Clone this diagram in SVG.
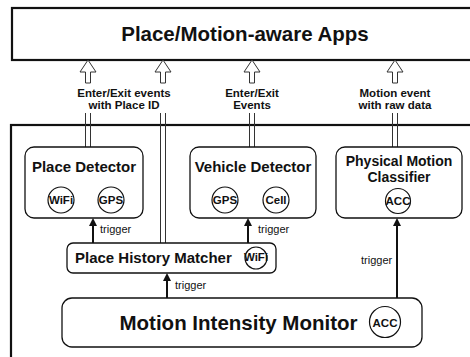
<svg xmlns="http://www.w3.org/2000/svg" width="470" height="357" viewBox="0 0 470 357">
  <defs>
    <style>
      .frame { fill: #fff; stroke: #111; stroke-width: 2.2; }
      .node { fill: #fff; stroke: #111; stroke-width: 1.3; }
      .chip { fill: #fff; stroke: #111; stroke-width: 1.2; }
      .shaft { stroke: #333; stroke-width: 1; fill: none; }
      .head { fill: #fff; stroke: #333; stroke-width: 1; stroke-linejoin: miter; }
      .trig { stroke: #111; stroke-width: 2; fill: none; marker-end: url(#solid); }
      .title { font-family: "Liberation Sans", Arial, sans-serif; font-weight: bold; fill: #111; text-anchor: middle; }
      .lbl { font-family: "Liberation Sans", Arial, sans-serif; font-weight: bold; font-size: 11.5px; fill: #111; text-anchor: middle; }
      .tr { font-family: "Liberation Sans", Arial, sans-serif; font-size: 11px; fill: #111; }
      .sens { font-family: "Liberation Sans", Arial, sans-serif; font-weight: bold; font-size: 11.5px; fill: #111; text-anchor: middle; }
    </style>
    <marker id="solid" markerWidth="8" markerHeight="8" refX="4" refY="4" orient="auto" markerUnits="userSpaceOnUse">
      <path d="M0,0 L8,4 L0,8 z" fill="#111"/>
    </marker>
  </defs>

  <rect width="470" height="357" fill="#fff"/>

  <!-- application layer -->
  <g id="apps">
    <rect class="frame" x="12" y="8" width="470" height="52"/>
    <text class="title" x="245" y="41" font-size="20.5">Place/Motion-aware Apps</text>
  </g>

  <!-- system frame -->
  <g id="system">
    <rect class="frame" x="11" y="125" width="470" height="250"/>
  </g>

  <!-- connectors -->
  <g id="connectors">
    <!-- hollow up arrows to the apps -->
    <polygon class="head" points="85.5,83 85.5,72 80,72 88,60 96,72 90.5,72 90.5,83"/>
    <path class="shaft" d="M85.5,113 V147 M90.5,113 V147"/>
    <polygon class="head" points="160.5,83 160.5,72 155,72 163,60 171,72 165.5,72 165.5,83"/>
    <path class="shaft" d="M160.5,113 V243 M165.5,113 V243"/>
    <polygon class="head" points="249.5,83 249.5,72 244,72 252,60 260,72 254.5,72 254.5,83"/>
    <path class="shaft" d="M249.5,113 V147 M254.5,113 V147"/>
    <polygon class="head" points="392.5,83 392.5,72 387,72 395,60 403,72 397.5,72 397.5,83"/>
    <path class="shaft" d="M392.5,113 V147 M397.5,113 V147"/>

    <!-- trigger arrows -->
    <line class="trig" x1="93" y1="243" x2="93" y2="222"/>
    <line class="trig" x1="248" y1="243" x2="248" y2="222"/>
    <line class="trig" x1="167" y1="298" x2="167" y2="277"/>
    <line class="trig" x1="397" y1="298" x2="397" y2="222"/>

    <text class="lbl" x="124" y="97">Enter/Exit events</text>
    <text class="lbl" x="124" y="109">with Place ID</text>
    <text class="lbl" x="252" y="97">Enter/Exit</text>
    <text class="lbl" x="252" y="109">Events</text>
    <text class="lbl" x="395" y="97">Motion event</text>
    <text class="lbl" x="395" y="109">with raw data</text>

    <text class="tr" x="100" y="233">trigger</text>
    <text class="tr" x="258" y="233">trigger</text>
    <text class="tr" x="175" y="289">trigger</text>
    <text class="tr" x="361" y="264">trigger</text>
  </g>

  <g id="place-detector">
    <rect class="node" x="25" y="147" width="118" height="71" rx="9"/>
    <text class="title" x="84" y="172" font-size="15">Place Detector</text>
    <circle class="chip" cx="61" cy="200" r="13"/>
    <text class="sens" x="61" y="204">WiFi</text>
    <circle class="chip" cx="111" cy="200" r="13"/>
    <text class="sens" x="111" y="204">GPS</text>
  </g>

  <g id="vehicle-detector">
    <rect class="node" x="190" y="147" width="126" height="71" rx="9"/>
    <text class="title" x="253" y="172" font-size="15">Vehicle Detector</text>
    <circle class="chip" cx="225" cy="200" r="13"/>
    <text class="sens" x="225" y="204">GPS</text>
    <circle class="chip" cx="276" cy="200" r="13"/>
    <text class="sens" x="276" y="204">Cell</text>
  </g>

  <g id="physical-motion-classifier">
    <rect class="node" x="336" y="147" width="126" height="71" rx="9"/>
    <text class="title" x="399" y="166" font-size="14">Physical Motion</text>
    <text class="title" x="399" y="182" font-size="14">Classifier</text>
    <circle class="chip" cx="398" cy="201" r="12.5"/>
    <text class="sens" x="398" y="205">ACC</text>
  </g>

  <g id="place-history-matcher">
    <rect class="node" x="67" y="243" width="209" height="30" rx="6"/>
    <text class="title" x="75" y="263" font-size="15" style="text-anchor: start">Place History Matcher</text>
    <circle class="chip" cx="256" cy="258" r="11"/>
    <text class="sens" x="256" y="261" font-size="8">WiFi</text>
  </g>

  <g id="motion-intensity-monitor">
    <rect class="node" x="62" y="298" width="360" height="49" rx="10"/>
    <text class="title" x="238.5" y="330" font-size="20.5">Motion Intensity Monitor</text>
    <circle class="chip" cx="385" cy="322" r="15.5"/>
    <text class="sens" x="385" y="326.5" font-size="12">ACC</text>
  </g>
</svg>
